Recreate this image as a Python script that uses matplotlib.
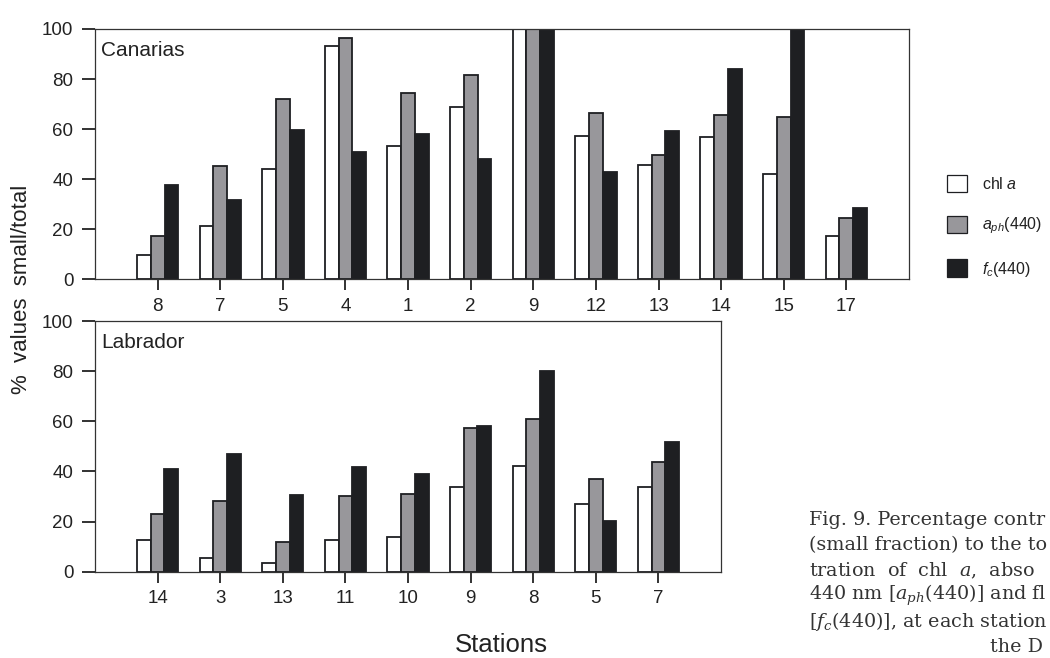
import numpy as np
import matplotlib
matplotlib.use("Agg")
import matplotlib.pyplot as plt
from matplotlib.patches import Patch

plt.rcParams['font.family'] = ['Liberation Sans', 'DejaVu Sans']
plt.rcParams['mathtext.fontset'] = 'custom'
plt.rcParams['mathtext.rm'] = 'Liberation Sans'
plt.rcParams['mathtext.it'] = 'Liberation Sans:italic'
plt.rcParams['text.color'] = '#222222'
plt.rcParams['xtick.color'] = '#222222'
plt.rcParams['ytick.color'] = '#222222'

# Canarias stations
can_st = ['8', '7', '5', '4', '1', '2', '9', '12', '13', '14', '15', '17']
can_chl = [9.6, 21.3, 44.0, 93.3, 53.3, 68.7, 100, 57.2, 45.7, 56.7, 42.3, 17.4]
can_aph = [17.3, 45.5, 71.9, 96.5, 74.4, 81.5, 100, 66.5, 49.6, 65.7, 64.9, 24.5]
can_fc = [37.7, 31.7, 59.6, 50.9, 57.9, 48.1, 100, 43.1, 59.2, 84.1, 100, 28.7]

# Labrador stations
lab_st = ['14', '3', '13', '11', '10', '9', '8', '5', '7']
lab_chl = [12.6, 5.3, 3.6, 12.5, 13.8, 33.8, 42.0, 27.1, 33.8]
lab_aph = [23.0, 28.2, 12.0, 30.2, 30.9, 57.4, 60.8, 37.1, 43.9]
lab_fc = [41.0, 47.1, 30.7, 41.6, 39.1, 58.1, 80.2, 20.1, 51.9]

white = 'white'
grey = '#98979b'
black = '#1e1f22'
edge = '#1e1f22'
w = 0.22

fig = plt.figure(figsize=(10.5, 6.58), dpi=100)
ax1 = fig.add_axes([95/1050, 1-279.5/658, 814/1050, 250.5/658])
ax2 = fig.add_axes([95/1050, 1-571.7/658, 626/1050, 250.7/658])


def panel(ax, st, chl, aph, fc, n):
    x = np.arange(len(st))
    ax.bar(x - w, chl, w, color=white, edgecolor=edge, linewidth=1.3)
    ax.bar(x, aph, w, color=grey, edgecolor=edge, linewidth=1.3)
    ax.bar(x + w, fc, w, color=black, edgecolor=edge, linewidth=1.3)
    ax.set_xlim(-1, n)
    ax.set_ylim(0, 100)
    ax.set_xticks(x)
    ax.set_xticklabels(st)
    ax.set_yticks([0, 20, 40, 60, 80, 100])
    ax.tick_params(axis='x', direction='out', length=8, width=1.3, pad=5, labelsize=13.5)
    ax.tick_params(axis='y', direction='out', length=9.5, width=1.3, pad=6, labelsize=13.5)
    for s in ax.spines.values():
        s.set_linewidth(0.9)
        s.set_color('#333333')


panel(ax1, can_st, can_chl, can_aph, can_fc, 12)
panel(ax2, lab_st, lab_chl, lab_aph, lab_fc, 9)

fig.text(101/1050, 1-51/658, 'Canarias', fontsize=15, va='center', ha='left')
fig.text(101/1050, 1-343/658, 'Labrador', fontsize=15, va='center', ha='left')

fig.text(22/1050, 1-289/658, '%  values  small/total', fontsize=16,
         rotation=90, va='center', ha='center')
fig.text(501/1050, 1-645/658, 'Stations', fontsize=18.5, va='center', ha='center')

handles = [Patch(facecolor=white, edgecolor=edge, linewidth=0.9),
           Patch(facecolor=grey, edgecolor=edge, linewidth=0.9),
           Patch(facecolor=black, edgecolor=edge, linewidth=0.9)]
labels = ['chl $a$', '$a_{ph}$(440)', '$f_c$(440)']
fig.legend(handles, labels, loc='upper left', bbox_to_anchor=(947/1050, 1-175/658),
           frameon=False, fontsize=11.5, handlelength=1.25, handleheight=1.3,
           handletextpad=0.95, labelspacing=1.45, borderpad=0, borderaxespad=0)

# caption block beside the lower panel
caption = ['Fig. 9. Percentage contr',
           '(small fraction) to the to',
           'tration  of  chl  $a$,  abso',
           '440 nm [$a_{ph}$(440)] and fl',
           '[$f_c$(440)], at each station']
for i, line in enumerate(caption):
    fig.text(809/1050, 1-(520 + i*25.3)/658, line, fontsize=13.8, family='DejaVu Serif',
             math_fontfamily='dejavuserif', va='center', ha='left', color='#333333')
fig.text(990/1050, 1-646.5/658, 'the D', fontsize=13.8, family='DejaVu Serif',
         va='center', ha='left', color='#333333')

fig.savefig('out.png', dpi=100)
